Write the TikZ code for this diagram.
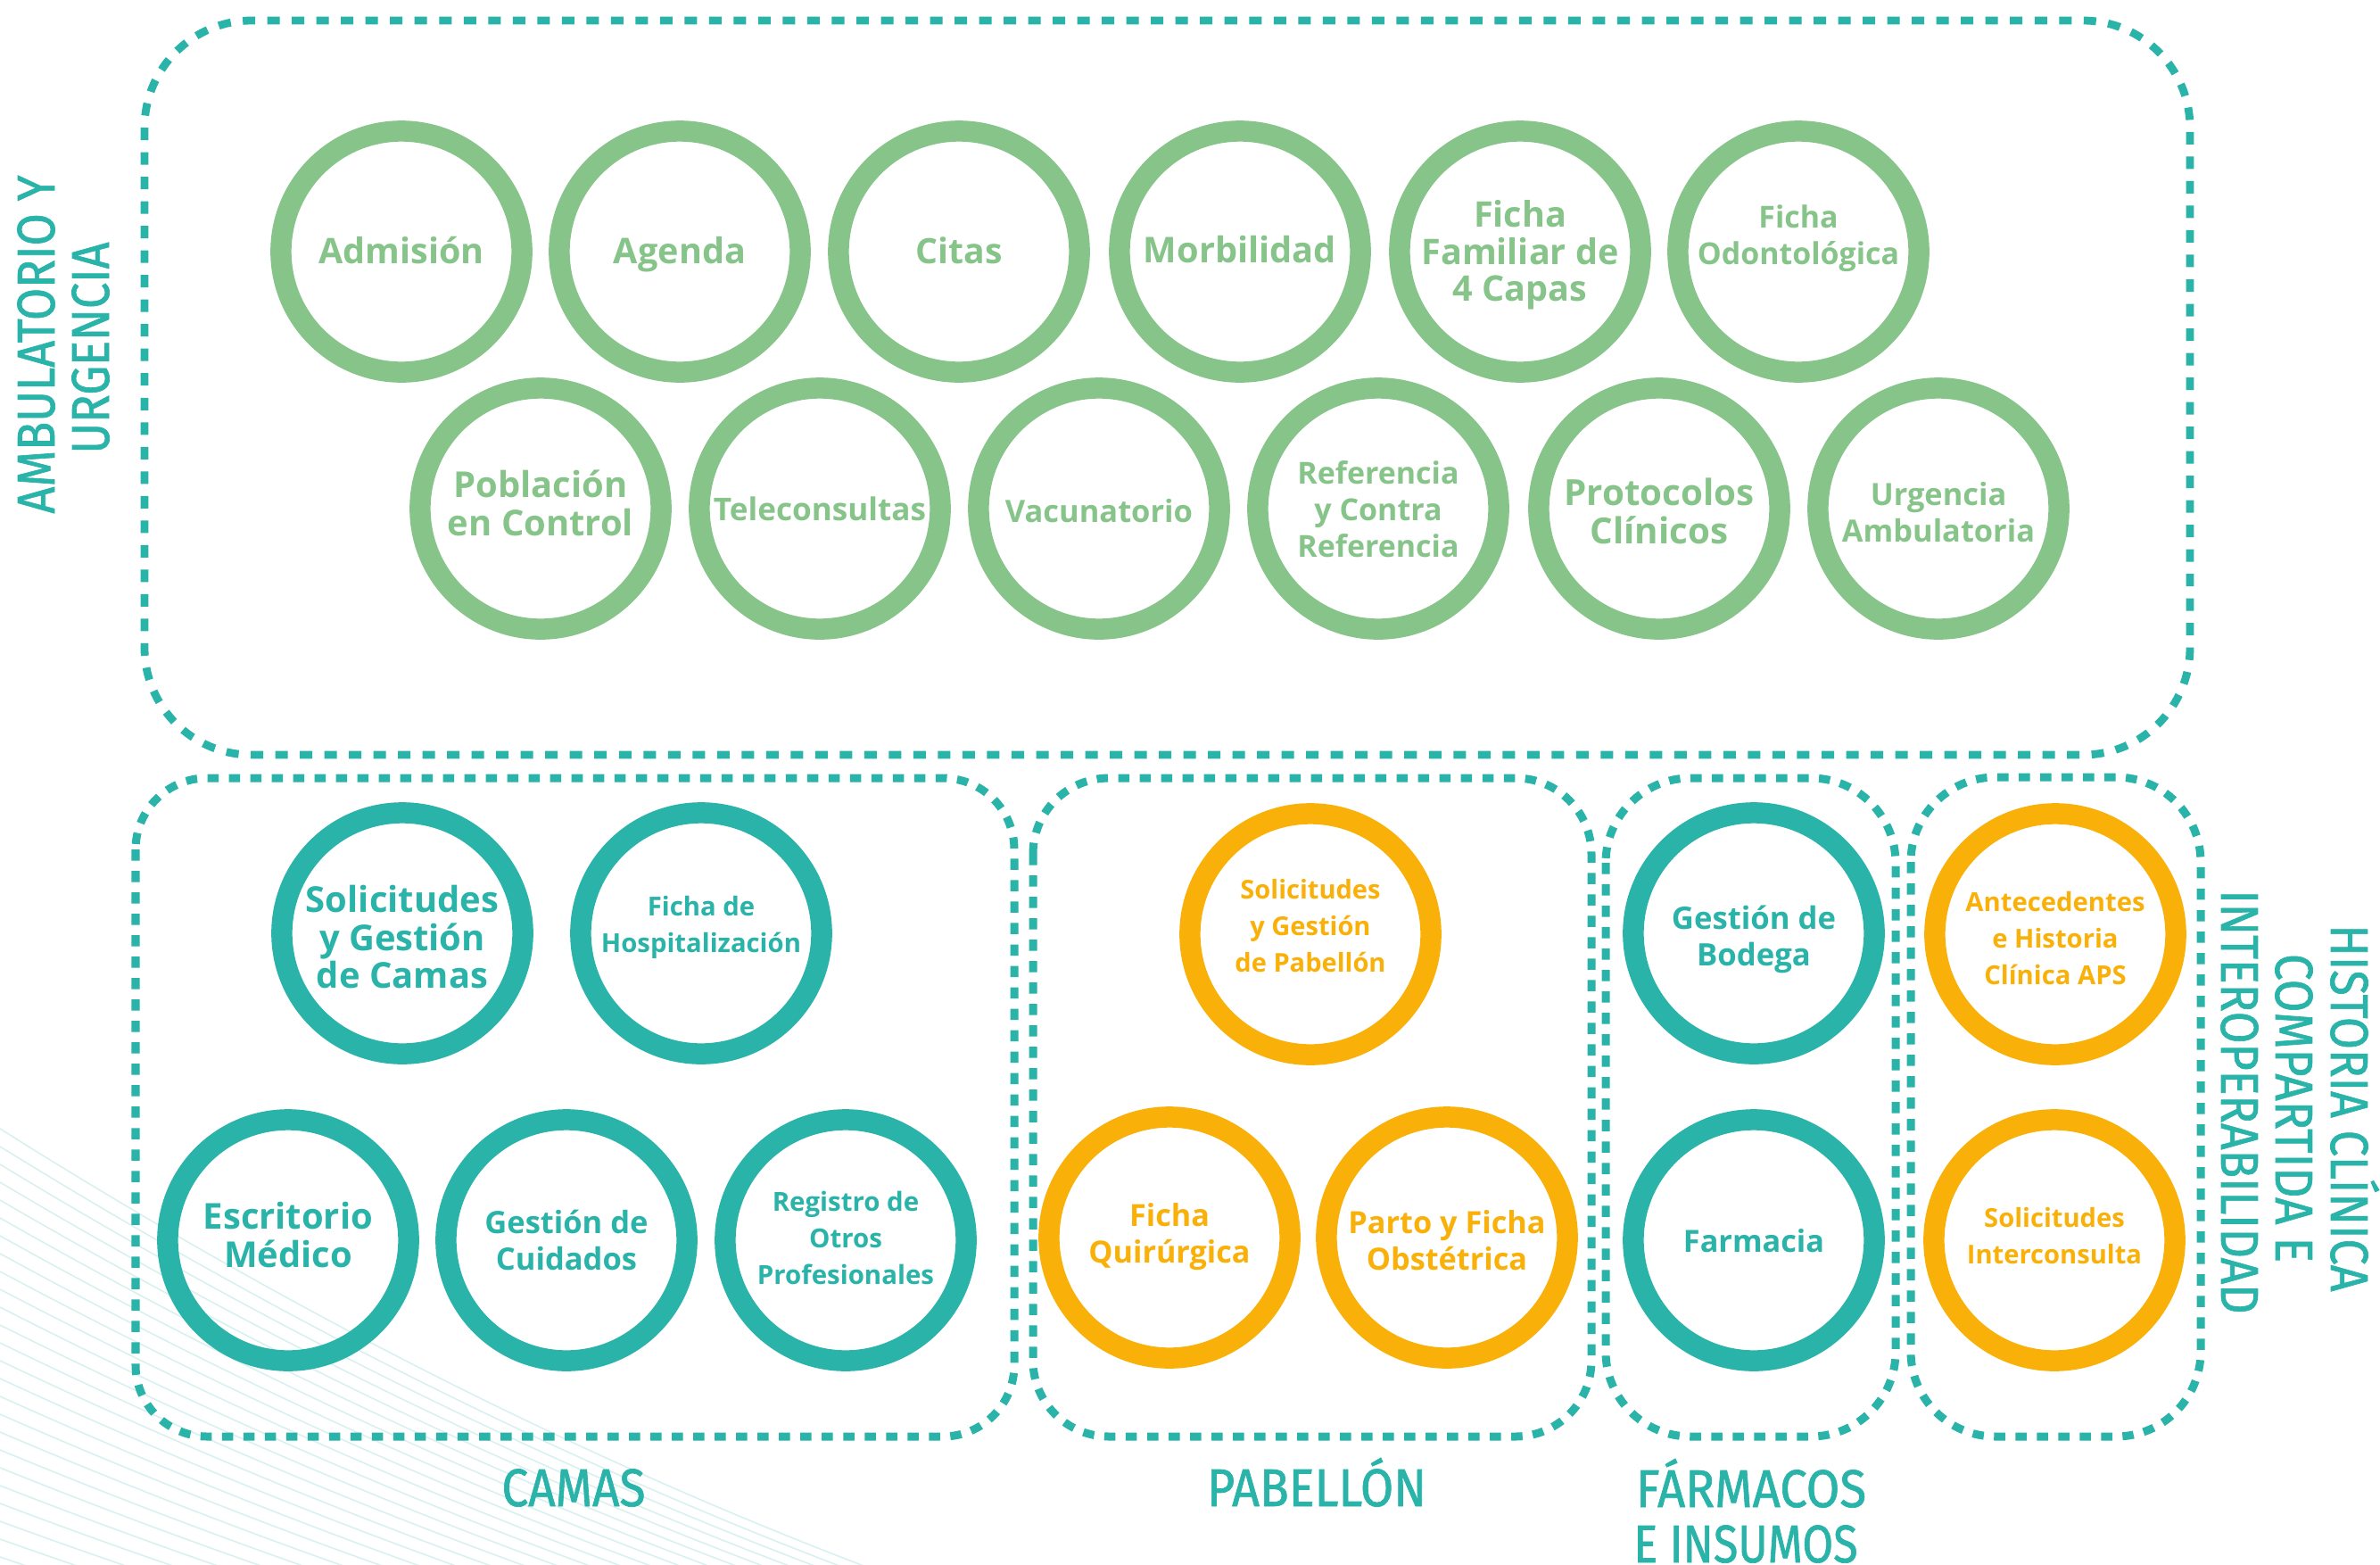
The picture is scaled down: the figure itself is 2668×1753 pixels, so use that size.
\documentclass[tikz,border=0pt]{standalone}
\usepackage{graphicx}
\usepackage{fontspec}
\setmainfont{Open Sans}
\newfontfamily\labfont[FakeBold=1.2]{Fira Sans}
\definecolor{gr}{HTML}{86C48A}
\definecolor{tl}{HTML}{29B3A9}
\definecolor{og}{HTML}{F9B10A}
\newlength\mylen
\newcommand\ctxt[3]{%
  \settowidth\mylen{\fontsize{10pt}{12pt}\selectfont\bfseries #2}%
  \pgfmathsetmacro\fsz{10*#1*0.284528/\mylen}%
  \fontsize{\fsz pt}{11.67pt}\selectfont\bfseries
  \begin{tabular}{@{}c@{}}#3\end{tabular}}
\newcommand\ltxt[2]{%
  \settowidth\mylen{\labfont\fontsize{16.9pt}{18pt}\selectfont #2}%
  \pgfmathsetmacro\sx{#1*0.284528/\mylen}%
  \scalebox{\sx}[1]{\labfont\fontsize{16.9pt}{18pt}\selectfont #2}}
\tikzset{
  circ/.style={circle, draw=#1, line width=0.235cm, minimum size=2.70cm, inner sep=0pt},
  ctext/.style={text=#1, inner sep=0pt},
  zone/.style={draw=tl, line width=0.088cm, dash pattern=on 0.14cm off 0.135cm},
  zoneb/.style={draw=tl, line width=0.09cm, dash pattern=on 0.125cm off 0.115cm},
  lab/.style={text=tl, inner sep=0pt, anchor=base},
  bgline/.style={draw=tl!18, line width=0.45pt},
}
% #1 name, #2 colour, #3 position, #4 text shift (px, down), #5 width, #6 widest line, #7 text
\newcommand\bubble[7]{%
  \node[circ=#2] (#1) at (#3) {};
  \node[ctext=#2] (#1-t) at ([yshift=-#4*0.01cm]#1.center) {\ctxt{#5}{#6}{#7}};}
\begin{document}
\begin{tikzpicture}[x=0.01cm, y=-0.01cm]
\useasboundingbox (0,0) rectangle (2668,1753);
\fill[white] (0,0) rectangle (2668,1753);
% background decorative lines
\begin{scope}
  \clip (0,0) rectangle (2668,1753);
  \foreach \k in {0,...,26} {
    \pgfmathsetmacro\yz{1265+20*\k}
    \pgfmathsetmacro\sz{63-1.2*\k}
    \pgfmathsetmacro\cz{1.28-0.02*\k}
    \draw[bgline] plot[domain=0:10, samples=25, smooth] ({100*\x}, {\yz+\sz*\x-\cz*\x*\x});
  }
\end{scope}
% zones
\draw[zone, rounded corners=1.2cm] (162,23) rectangle (2455,846);
\draw[zoneb, rounded corners=0.8cm] (152,872) rectangle (1137,1610);
\draw[zoneb, rounded corners=0.85cm] (1158,872) rectangle (1784,1610);
\draw[zoneb, rounded corners=0.95cm] (1800,872) rectangle (2125,1610);
\draw[zoneb, rounded corners=0.95cm] (2142,871) rectangle (2467,1610);
% top row
\bubble{admision}{gr}{450,282}{5}{185}{Admisión}{Admisión}
\bubble{agenda}{gr}{762,282}{5}{148}{Agenda}{Agenda}
\bubble{citas}{gr}{1075,282}{5}{97}{Citas}{Citas}
\bubble{morb}{gr}{1390,282}{4}{216}{Morbilidad}{Morbilidad}
\bubble{ffam}{gr}{1704,282}{5}{221}{Familiar de}{Ficha\\Familiar de\\4 Capas}
\bubble{fodo}{gr}{2016,282}{-14}{226}{Odontológica}{Ficha\\Odontológica}
% second row
\bubble{pob}{gr}{606,570}{0}{208}{en Control}{Población\\en Control}
\bubble{tele}{gr}{919,570}{5}{238}{Teleconsultas}{Teleconsultas}
\bubble{vacu}{gr}{1232,570}{7}{210}{Vacunatorio}{Vacunatorio}
\bubble{ref}{gr}{1545,570}{5}{181}{Referencia}{Referencia\\y Contra\\Referencia}
\bubble{prot}{gr}{1860,570}{9}{213}{Protocolos}{Protocolos\\Clínicos}
\bubble{urg}{gr}{2173,570}{9}{216}{Ambulatoria}{Urgencia\\Ambulatoria}
% camas
\bubble{solcam}{tl}{451,1046}{10}{216}{Solicitudes}{Solicitudes\\y Gestión\\de Camas}
\bubble{fhosp}{tl}{786,1046}{-7}{224}{Hospitalización}{Ficha de\\Hospitalización}
\bubble{escr}{tl}{323,1390}{0}{190}{Escritorio}{Escritorio\\Médico}
\bubble{gcuid}{tl}{635,1390}{5}{183}{Gestión de}{Gestión de\\Cuidados}
\bubble{regis}{tl}{948,1390}{0}{198}{Profesionales}{Registro de\\Otros\\Profesionales}
% pabellon
\bubble{solpab}{og}{1469,1047}{-7}{169}{de Pabellón}{Solicitudes\\y Gestión\\de Pabellón}
\bubble{fquir}{og}{1311,1387}{0}{181}{Quirúrgica}{Ficha\\Quirúrgica}
\bubble{parto}{og}{1622,1387}{8}{221}{Parto y Ficha}{Parto y Ficha\\Obstétrica}
% farmacos
\bubble{bodega}{tl}{1966,1046}{8}{184}{Gestión de}{Gestión de\\Bodega}
\bubble{farm}{tl}{1966,1390}{5}{158}{Farmacia}{Farmacia}
% historia
\bubble{antec}{og}{2304,1047}{7}{201}{Antecedentes}{Antecedentes\\e Historia\\Clínica APS}
\bubble{inter}{og}{2303,1390}{-2}{196}{Interconsulta}{Solicitudes\\Interconsulta}
% labels
\node[lab, rotate=90] (lamb1) at (61,386) {\ltxt{379}{AMBULATORIO Y}};
\node[lab, rotate=90] (lamb2) at (122,390) {\ltxt{237}{URGENCIA}};
\node[lab, rotate=-90] (lhis1) at (2613,1242) {\ltxt{411}{HISTORIA CLÍNICA}};
\node[lab, rotate=-90] (lhis2) at (2551,1242) {\ltxt{346}{COMPARTIDA E}};
\node[lab, rotate=-90] (lhis3) at (2490,1235) {\ltxt{475}{INTEROPERABILIDAD}};
\node[lab] (lcam) at (643,1688) {\ltxt{161}{CAMAS}};
\node[lab] (lpab) at (1476,1688) {\ltxt{246}{PABELLÓN}};
\node[lab] (lfar1) at (1963,1689) {\ltxt{258}{FÁRMACOS}};
\node[lab] (lfar2) at (1957,1751) {\ltxt{251}{E INSUMOS}};
\end{tikzpicture}
\end{document}
